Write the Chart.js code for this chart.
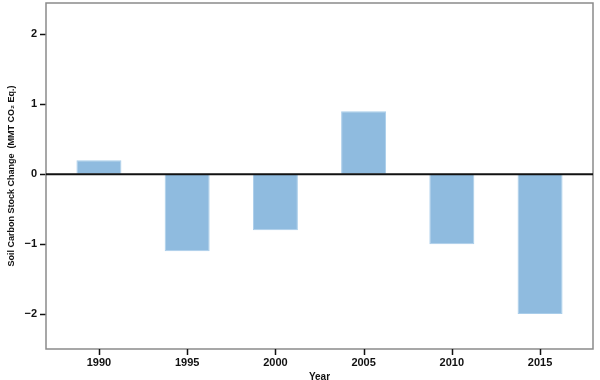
<!DOCTYPE html>
<html>
<head>
<meta charset="utf-8">
<script src="https://cdn.jsdelivr.net/npm/chart.js@4"></script>
<style>
html,body{margin:0;padding:0;background:#fff;}
#wrap{width:600px;height:380px;position:relative;}
</style>
</head>
<body>
<div id="wrap"><canvas id="c" width="600" height="380"></canvas></div>
<script>
const years = [1990, 1995, 2000, 2005, 2010, 2015];
const values = [0.2, -1.1, -0.8, 0.9, -1.0, -2.0];
const yTicks = [-2, -1, 0, 1, 2];
const xTicks = [1990, 1995, 2000, 2005, 2010, 2015];

const frame = {
  id: 'frame',
  beforeDatasetsDraw(chart) {
    const a = chart.chartArea, ctx = chart.ctx;
    ctx.save();
    ctx.strokeStyle = '#8a8a8a';
    ctx.lineWidth = 1.5;
    ctx.strokeRect(a.left, a.top, a.right - a.left, a.bottom - a.top);
    ctx.restore();
  },
  afterDatasetsDraw(chart) {
    const a = chart.chartArea, ctx = chart.ctx;
    const y0 = chart.scales.y.getPixelForValue(0);
    ctx.save();
    ctx.strokeStyle = '#111';
    ctx.lineWidth = 2;
    ctx.beginPath();
    ctx.moveTo(a.left, y0);
    ctx.lineTo(a.right, y0);
    ctx.stroke();
    // x tick marks
    ctx.lineWidth = 1.5;
    ctx.beginPath();
    chart.scales.x.ticks.forEach(t => {
      const px = Math.round(chart.scales.x.getPixelForValue(t.value)) + 0.5;
      ctx.moveTo(px, a.bottom);
      ctx.lineTo(px, a.bottom + 6);
    });
    ctx.stroke();
    ctx.restore();
  }
};

new Chart(document.getElementById('c'), {
  type: 'bar',
  data: {
    datasets: [{
      data: years.map((y, i) => ({x: y, y: values[i]})),
      backgroundColor: '#8fbbdf',
      borderColor: '#a9cdea',
      borderWidth: 1,
      barPercentage: 0.51,
      categoryPercentage: 1
    }]
  },
  options: {
    responsive: false,
    animation: false,
    devicePixelRatio: 1,
    layout: {padding: {top: 3, right: 7, left: 6, bottom: 0}},
    plugins: {legend: {display: false}, tooltip: {enabled: false}},
    scales: {
      x: {
        type: 'linear',
        offset: false,
        min: 1987, max: 2018,
        afterBuildTicks: s => { s.ticks = xTicks.map(v => ({value: v})); },
        afterFit: s => { s.height = 31; s.paddingLeft = 0; s.paddingRight = 0; },
        grid: {display: false, tickLength: 6},
        border: {display: false},
        ticks: {
          color: '#111', padding: 1,
          font: {family: 'Liberation Sans, Arial, sans-serif', size: 11, weight: 'bold'},
          callback: v => String(v),
          maxRotation: 0
        },
        title: {
          display: true, text: 'Year', color: '#111', padding: {top: 2, bottom: -3},
          font: {family: 'Liberation Sans, Arial, sans-serif', size: 10, weight: 'bold'}
        }
      },
      y: {
        min: -2.5, max: 2.45,
        afterBuildTicks: s => { s.ticks = yTicks.map(v => ({value: v})); },
        afterFit: s => { s.width = 40; s.paddingTop = 0; s.paddingBottom = 0; },
        grid: {display: true, drawOnChartArea: false, drawTicks: true, tickLength: 6, tickColor: '#111', tickWidth: 1.5},
        border: {display: false},
        ticks: {
          color: '#111', padding: 3,
          font: {family: 'Liberation Sans, Arial, sans-serif', size: 11, weight: 'bold'},
          callback: v => v < 0 ? '\u2212' + Math.abs(v) : String(v)
        },
        title: {
          display: true, text: 'Soil Carbon Stock Change  (MMT CO\u2082 Eq.)', color: '#111',
          padding: {top: 0, bottom: 2},
          font: {family: 'Liberation Sans, Arial, sans-serif', size: 9, weight: 'bold'}
        }
      }
    }
  },
  plugins: [frame]
});
</script>
</body>
</html>
